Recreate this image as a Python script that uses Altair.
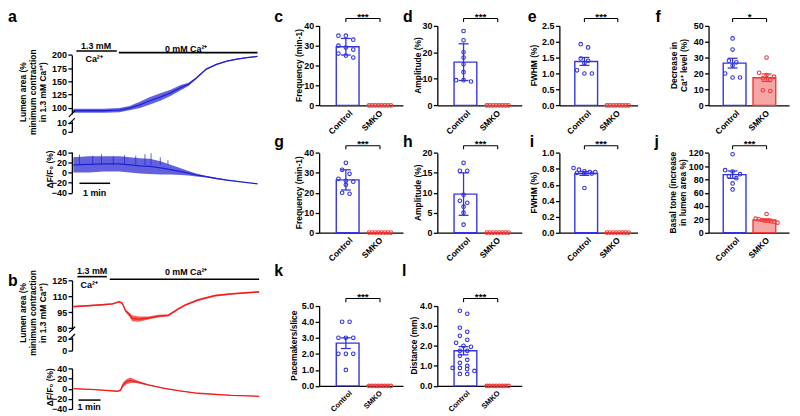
import altair as alt
import pandas as pd

FONT = "Liberation Sans"
BLUE = "#3434e2"
TRACE_BLUE = "#2020d2"
TRACE_RED = "#f01e1e"
RED = "#f03a3a"
PINK = "#f7a6a6"
W, H = 792, 408

# ---------------- data ----------------
# panel a (control): time in s
a_time = [0, 30, 60, 90, 110, 130, 150, 170, 190, 210, 225, 240, 260, 280, 300, 320, 340, 360]
a_lumen_lo = [90, 90, 90, 91, 95, 99, 106, 113, 122, 133, 141, 154, 172, 181, 187, 191, 194, 196]
a_lumen_hi = [98, 98, 98, 99, 103, 111, 120, 127, 134, 143, 147, 157, 174, 183, 189, 193, 196, 198]
a_dff_lo = [0, 0, 2, 2, 0, -2, -3, -4, -4, -5, -6, -8, -10, -13, -16, -18, -20, -23]
a_dff_hi = [30, 32, 32, 32, 30, 28, 27, 22, 15, 8, 3, -2, -7, -11, -14, -17, -20, -22]
a_spike_time = [12, 38, 55, 78, 100, 122, 140, 152, 170, 185]
a_spike_peak = [35, 33, 36, 32, 34, 33, 36, 38, 30, 24]
a_high_ca = [6, 85]
a_zero_ca = [89, 360]
a_scalebar = [12, 72]

# panel b (SMKO)
b_time = [0, 70, 106, 124, 133, 142, 151, 160, 178, 204, 231, 258, 285, 303, 339, 384, 429, 505]
b_lumen_lo = [99.5, 101, 102, 104, 102.5, 95, 91.5, 86.5, 86, 88, 90, 91, 97, 100.5, 105.5, 109.5, 111.5, 113.3]
b_lumen_hi = [101, 102.5, 103.5, 105.5, 104.5, 97.5, 95, 92, 91, 91, 92.5, 93, 99, 102.5, 107.5, 111.5, 113, 115]
b_dff_time = [0, 60, 120, 128, 135, 145, 155, 170, 204, 244, 285, 339, 429, 505]
b_dff_lo = [-0.5, -2.5, -5.5, -5, 3, 9, 11, 11, 6.5, 0.3, -4.5, -9.5, -13.5, -15.5]
b_dff_hi = [0.5, -1.5, -4.5, -1, 12, 19, 22, 17, 8.5, 1.7, -3.5, -8.5, -12.5, -14.5]
b_high_ca = [11, 91]
b_zero_ca = [99, 505]
b_scalebar = [14, 74]

groups = ["Control", "SMKO"]
c_ctrl = [35, 35, 33, 30, 29, 28, 26, 25, 24]
c_smko = [0, 0, 0, 0, 0, 0, 0, 0]
d_ctrl = [28, 24.5, 20, 18, 15.5, 12.5, 9.5, 9, 9.5]
d_smko = [0, 0, 0, 0, 0, 0, 0, 0]
e_ctrl = [1.92, 1.82, 1.47, 1.40, 1.32, 1.10, 1.00, 1.00]
e_smko = [0, 0, 0, 0, 0, 0, 0, 0]
f_ctrl = [42, 35, 28, 27, 25, 20, 17.5, 17.5]
f_smko = [30, 20.5, 19, 18, 17, 16, 9.5, 9]
g_ctrl = [35, 31.5, 29.5, 27, 26, 25.5, 24, 20, 19.5]
g_smko = [0, 0, 0, 0, 0, 0, 0, 0]
h_ctrl = [17.5, 15.5, 15.5, 9.5, 8, 7.5, 6.5, 5, 2]
h_smko = [0, 0, 0, 0, 0, 0, 0, 0]
i_ctrl = [0.81, 0.79, 0.77, 0.76, 0.76, 0.75, 0.74, 0.74, 0.56]
i_smko = [0, 0, 0, 0, 0, 0, 0, 0]
j_ctrl = [118, 94, 92, 88, 85, 82, 74, 65]
j_smko = [28, 21, 20, 19, 18, 18, 17, 16, 15]
k_ctrl = [4, 4, 3, 3, 3, 2, 2, 2, 1]
k_smko = [0, 0, 0, 0, 0, 0, 0, 0]
l_ctrl = [3.75, 3.6, 2.9, 2.7, 2.5, 2.3, 2.15, 2.0, 1.95, 1.75, 1.75, 1.5, 1.3, 1.15,
          1.0, 0.9, 0.9, 0.85, 0.75, 0.6, 0.6]
l_smko = [0, 0, 0, 0, 0, 0, 0, 0]


# ---------------- helpers ----------------
def cx(x):
    return x - 8


def cy(y):
    return y - 8


def laxis(xp, values, fmt="d"):
    return alt.Axis(orient="left", offset=-cx(xp), values=values, format=fmt, title=None,
                    grid=False, domainColor="black", domainWidth=1.3, tickColor="black",
                    tickWidth=1.3, tickSize=4, labelFont=FONT, labelFontWeight="bold",
                    labelFontSize=9, labelColor="black", labelPadding=1.5,
                    labelOverlap=False, labelFlush=False)


def baxis(yp, size):
    return alt.Axis(orient="bottom", offset=cy(yp) - H, values=[0, 1],
                    labelExpr="datum.value == 0 ? 'Control' : 'SMKO'", labelAngle=-45,
                    ticks=False, grid=False, title=None, domainColor="black", domainWidth=1.3,
                    labelFont=FONT, labelFontWeight="bold", labelFontSize=size,
                    labelColor="black", labelPadding=3, labelFlush=False, labelOverlap=False)


def text(s, x, y, size=9, angle=0, align="center", baseline="middle", weight="bold"):
    return alt.Chart(pd.DataFrame({"d": [0]})).mark_text(
        text=s, font=FONT, fontSize=size, fontWeight=weight, angle=angle, align=align,
        baseline=baseline, color="black").encode(x=alt.value(cx(x)), y=alt.value(cy(y)))


def trace(t, lo, hi, xs, ys, color, yaxis):
    df = pd.DataFrame({"t": t, "lo": lo, "hi": hi})
    base = alt.Chart(df)
    area = base.mark_area(color=color, opacity=0.7).encode(
        x=alt.X("t:Q", scale=xs, axis=None),
        y=alt.Y("lo:Q", scale=ys, axis=yaxis), y2="hi:Q")
    line = base.transform_calculate(mid="(datum.lo + datum.hi) / 2").mark_line(
        color=color, strokeWidth=1.3).encode(
        x=alt.X("t:Q", scale=xs, axis=None), y=alt.Y("mid:Q", scale=ys, axis=None))
    return [area, line]


def slash(ys, v, xp, yaxis=None):
    d = pd.DataFrame({"v": [v]})
    return alt.Chart(d).mark_rule(color="black", strokeWidth=1.2, yOffset=3, y2Offset=-3).encode(
        x=alt.value(cx(xp) - 3), x2=alt.value(cx(xp) + 3),
        y=alt.Y("v:Q", scale=ys, axis=yaxis), y2="v:Q")


def hseg(seg, xs, yp, width=1.6):
    d = pd.DataFrame({"t0": [seg[0]], "t1": [seg[1]]})
    return alt.Chart(d).mark_rule(color="black", strokeWidth=width).encode(
        x=alt.X("t0:Q", scale=xs, axis=None), x2="t1:Q", y=alt.value(cy(yp)))


def swarm(vals, pxu, thresh=4.5, maxw=22, sp0=7.5):
    sv = sorted(vals, reverse=True)
    grs = []
    for v in sv:
        if grs and (grs[-1][0] - v) * pxu < thresh:
            grs[-1].append(v)
        else:
            grs.append([v])
    ov, oo = [], []
    for gr in grs:
        n = len(gr)
        sp = min(sp0, maxw / (n - 1)) if n > 1 else 0
        for i, v in enumerate(gr):
            ov.append(v)
            oo.append((i - (n - 1) / 2) * sp)
    return ov, oo


FILL = alt.Fill("grp:N", scale=alt.Scale(domain=groups, range=["white", PINK]), legend=None)
STROKE = alt.Stroke("grp:N", scale=alt.Scale(domain=groups, range=[BLUE, RED]), legend=None)


def bar_panel(ctrl, smko, col, row, top, ticks, fmt, err, stars, xlab=8.5):
    ax, c0, c1, end = col
    y0, yt = row
    step = c1 - c0
    xs = alt.Scale(domain=[-c0 / step, (end - ax - c0) / step], range=[cx(ax), cx(end)],
                   nice=False, zero=False)
    ys = alt.Scale(domain=[0, top], range=[cy(y0), cy(yt)], nice=False, zero=False)
    pxu = (y0 - yt) / top
    rows = []
    for gi, vals in enumerate((ctrl, smko)):
        vv, oo = swarm(vals, pxu)
        for v, o in zip(vv, oo):
            rows.append({"grp": groups[gi], "gi": gi, "v": v, "xj": gi + o / step})
    df = pd.DataFrame(rows)
    base = alt.Chart(df)
    X = lambda f, axis=None: alt.X(f, scale=xs, axis=axis)
    Y = lambda f, axis=None: alt.Y(f, scale=ys, axis=axis)
    bars = base.transform_aggregate(m="mean(v)", groupby=["grp", "gi"]).mark_bar(
        width=23, strokeWidth=1.4, orient="vertical").encode(
        x=X("gi:Q", baxis(y0, xlab)), y=Y("m:Q", laxis(ax, ticks, fmt)), fill=FILL, stroke=STROKE)
    op = "stdev" if err == "sd" else "stderr"
    eb = base.transform_aggregate(m="mean(v)", s=f"{op}(v)", groupby=["grp", "gi"]).transform_filter(
        "datum.s > 0").transform_calculate(lo="datum.m - datum.s", hi="datum.m + datum.s")
    erule = eb.mark_rule(strokeWidth=1.3).encode(x=X("gi:Q"), y=Y("lo:Q"), y2="hi:Q", stroke=STROKE)
    cap_hi = eb.mark_rule(strokeWidth=1.3, xOffset=-5, x2Offset=5).encode(
        x=X("gi:Q"), x2="gi:Q", y=Y("hi:Q"), stroke=STROKE)
    cap_lo = eb.mark_rule(strokeWidth=1.3, xOffset=-5, x2Offset=5).encode(
        x=X("gi:Q"), x2="gi:Q", y=Y("lo:Q"), stroke=STROKE)
    pts = base.mark_point(shape="circle", filled=False, size=13, strokeWidth=1.1, opacity=1).encode(
        x=X("xj:Q"), y=Y("v:Q"), stroke=STROKE)
    hb, ht = top * 1.09, top * 1.045
    bd = pd.DataFrame({"x": [0, 0, 1], "x2": [1, 0, 1], "y": [hb, hb, hb], "y2": [hb, ht, ht]})
    bracket = alt.Chart(bd).mark_rule(color="black", strokeWidth=1.1).encode(
        x=X("x:Q"), x2="x2:Q", y=Y("y:Q"), y2="y2:Q")
    sd = pd.DataFrame({"x": [0.5], "y": [hb], "s": [stars]})
    st = alt.Chart(sd).mark_text(font=FONT, fontSize=10, fontWeight="bold", dy=1.5,
                                 baseline="alphabetic", color="black").encode(
        x=X("x:Q"), y=Y("y:Q"), text="s:N")
    return [bars, erule, cap_hi, cap_lo, pts, bracket, st]


# ---------------- panel a ----------------
AX_A = 72.5
xs_a = alt.Scale(domain=[0, 360], range=[cx(74), cx(260)], nice=False, zero=False)
ys_au = alt.Scale(domain=[88, 200], range=[cy(112.9), cy(53.3)], nice=False, zero=False)
ys_al = alt.Scale(domain=[0, 12], range=[cy(131), cy(120.2)], nice=False, zero=False)
ys_ad = alt.Scale(domain=[-40, 40], range=[cy(192.5), cy(151.5)], nice=False, zero=False)

spk = pd.DataFrame({"t": a_spike_time, "p": a_spike_peak})
a_layers = (
    trace(a_time, a_lumen_lo, a_lumen_hi, xs_a, ys_au, TRACE_BLUE,
          laxis(AX_A, [100, 125, 150, 175, 200]))
    + [hseg(a_high_ca, xs_a, 49.3), hseg(a_zero_ca, xs_a, 51), slash(ys_au, 88, AX_A),
       slash(ys_al, 12, AX_A, laxis(AX_A, [0, 10]))]
    + trace(a_time, a_dff_lo, a_dff_hi, xs_a, ys_ad, TRACE_BLUE,
            laxis(AX_A, [-40, -20, 0, 20, 40]))
    + [alt.Chart(spk).mark_rule(color=TRACE_BLUE, strokeWidth=0.7).encode(
        x=alt.X("t:Q", scale=xs_a, axis=None),
        y=alt.Y("p:Q", scale=ys_ad, axis=None), y2=alt.Y2(datum=15)),
       hseg(a_scalebar, xs_a, 183, 1.5)]
)

# ---------------- panel b ----------------
AX_B = 72.7
xs_b = alt.Scale(domain=[0, 505], range=[cx(74), cx(261.7)], nice=False, zero=False)
ys_bu = alt.Scale(domain=[78.5, 125], range=[cy(330.9), cy(281)], nice=False, zero=False)
ys_bl = alt.Scale(domain=[0, 22], range=[cy(352), cy(338.25)], nice=False, zero=False)
ys_bd = alt.Scale(domain=[-40, 40], range=[cy(411), cy(370)], nice=False, zero=False)

b_layers = (
    trace(b_time, b_lumen_lo, b_lumen_hi, xs_b, ys_bu, TRACE_RED,
          laxis(AX_B, [80, 95, 110, 125]))
    + [hseg(b_high_ca, xs_b, 277.3), hseg(b_zero_ca, xs_b, 280), slash(ys_bu, 78.5, AX_B),
       slash(ys_bl, 22, AX_B, laxis(AX_B, [0, 20]))]
    + trace(b_dff_time, b_dff_lo, b_dff_hi, xs_b, ys_bd, TRACE_RED,
            laxis(AX_B, [-40, -20, 0, 20, 40]))
    + [hseg(b_scalebar, xs_b, 402, 1.5)]
)

# ---------------- bar panels ----------------
col1 = (322.3, 27, 61.5, 407)
col2 = (441.7, 26.5, 61, 527)
col3 = (565, 25.3, 59, 644)
col4 = (715.7, 24.3, 58.6, 797)
row1 = (104.3, 23.8)
row2 = (232.8, 152.3)
row3 = (387.7, 306.7)

bar_layers = (
    bar_panel(c_ctrl, c_smko, col1, row1, 40, [0, 10, 20, 30, 40], "d", "sd", "***")
    + bar_panel(d_ctrl, d_smko, col2, row1, 30, [0, 10, 20, 30], "d", "sd", "***")
    + bar_panel(e_ctrl, e_smko, col3, row1, 2.5, [0, 0.5, 1, 1.5, 2, 2.5], ".1f", "sem", "***")
    + bar_panel(f_ctrl, f_smko, col4, row1, 50, [0, 10, 20, 30, 40, 50], "d", "sem", "*")
    + bar_panel(g_ctrl, g_smko, col1, row2, 40, [0, 10, 20, 30, 40], "d", "sd", "***")
    + bar_panel(h_ctrl, h_smko, col2, row2, 20, [0, 5, 10, 15, 20], "d", "sd", "***")
    + bar_panel(i_ctrl, i_smko, col3, row2, 1.0, [0, 0.2, 0.4, 0.6, 0.8, 1.0], ".1f", "sem", "***")
    + bar_panel(j_ctrl, j_smko, col4, row2, 120, [0, 20, 40, 60, 80, 100, 120], "d", "sem", "***")
    + bar_panel(k_ctrl, k_smko, col1, row3, 5.0, [0, 1, 2, 3, 4, 5], ".1f", "sem", "***", 7.5)
    + bar_panel(l_ctrl, l_smko, col2, row3, 4.0, [0, 1, 2, 3, 4], ".1f", "sem", "***", 7.5)
)

# ---------------- texts ----------------
T = 8.5
texts = [
    text("a", 8, 20, 16, align="left", baseline="alphabetic"),
    text("b", 8, 287, 16, align="left", baseline="alphabetic"),
    text("1.3 mM", 97, 44),
    text("Ca²⁺", 95, 57),
    text("0 mM Ca²⁺", 188, 47),
    text("1 min", 95.5, 192.5),
    text("1.3 mM", 93, 272),
    text("Ca²⁺", 90, 285.5),
    text("0 mM Ca²⁺", 188, 273),
    text("1 min", 90, 409.5),
    text("Lumen area (%", 23, 91, T, angle=270),
    text("minimum contraction", 33, 91, T, angle=270),
    text("in 1.3 mM Ca²⁺)", 43, 91, T, angle=270),
    text("ΔF/F₀ (%)", 50.5, 169, T, angle=270),
    text("Lumen area (%", 23, 314, T, angle=270),
    text("minimum contraction", 33, 314, T, angle=270),
    text("in 1.3 mM Ca²⁺)", 43, 314, T, angle=270),
    text("ΔF/F₀ (%)", 50.5, 389, T, angle=270),
    text("Frequency (min-1)", 302.5, 64, T, angle=270),
    text("Amplitude (%)", 422.5, 64, T, angle=270),
    text("FWHM (%)", 539.5, 64, T, angle=270),
    text("Decrease in", 680.5, 64, T, angle=270),
    text("Ca²⁺ level (%)", 690.5, 64, T, angle=270),
    text("Frequency (min-1)", 302.5, 192.5, T, angle=270),
    text("Amplitude (%)", 422.5, 192.5, T, angle=270),
    text("FWHM (%)", 539.5, 192.5, T, angle=270),
    text("Basal tone (increase", 679.5, 192.5, T, angle=270),
    text("in lumen area %)", 689.5, 192.5, T, angle=270),
    text("Pacemakers/slice", 296.5, 347, T, angle=270),
    text("Distance (mm)", 418, 347, T, angle=270),
]
for s, x, y in [("c", 277, 20), ("d", 407, 20), ("e", 533, 20), ("f", 662, 20),
                ("g", 277, 146), ("h", 407, 146), ("i", 535, 146), ("j", 661, 146),
                ("k", 277, 277), ("l", 406, 277)]:
    texts.append(text(s, x, y, 16, align="left", baseline="alphabetic"))

chart = alt.layer(*a_layers, *b_layers, *bar_layers, *texts).resolve_scale(
    x="independent", y="independent").properties(
    width=W, height=H, autosize=alt.AutoSizeParams(type="none"), padding=0).configure_view(
    stroke=None)

chart.save("out.html", embed_options={"renderer": "svg", "actions": False})
